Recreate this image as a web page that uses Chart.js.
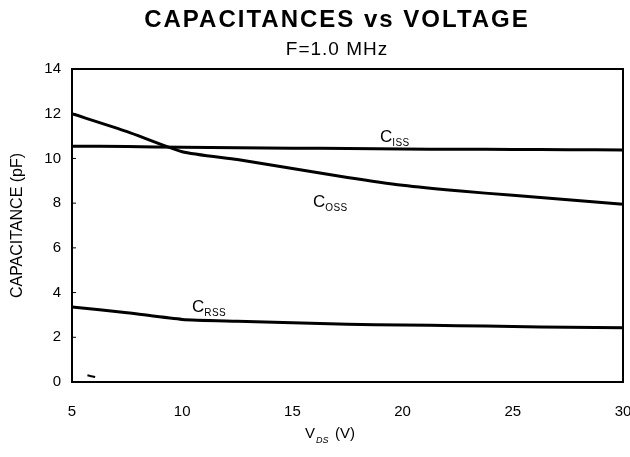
<!DOCTYPE html>
<html>
<head>
<meta charset="utf-8">
<script src="https://cdn.jsdelivr.net/npm/chart.js@4"></script>
<style>
  html, body { margin: 0; padding: 0; background: #fff; }
  #wrap { width: 630px; height: 457px; }
</style>
</head>
<body>
<div id="wrap"><canvas id="myChart" width="630" height="457"></canvas></div>
<script>
const vds = [5, 7.5, 10, 12.5, 15, 17.5, 20, 22.5, 25, 27.5, 30];
const ciss = [10.55, 10.53, 10.5, 10.48, 10.46, 10.44, 10.42, 10.41, 10.4, 10.39, 10.38];
const coss = [12.0, 11.2, 10.3, 9.95, 9.55, 9.15, 8.8, 8.55, 8.35, 8.15, 7.95];
const crss = [3.35, 3.1, 2.8, 2.72, 2.65, 2.58, 2.55, 2.52, 2.48, 2.45, 2.43];
// small stray mark near the origin
const markX = [5.7, 6.05];
const markY = [0.3, 0.22];
const xTicks = [5, 10, 15, 20, 25, 30];
const yTicks = [0, 2, 4, 6, 8, 10, 12, 14];

// curve labels: [main, subscript, x, y]
const curveLabels = [
    ['C', 'ISS', 18.97, 10.73],
    ['C', 'OSS', 15.93, 7.83],
    ['C', 'RSS', 10.44, 3.13]
];

const FONT = '"Liberation Sans", Arial, sans-serif';

function pts(xs, ys) {
    return xs.map((x, i) => ({ x: x, y: ys[i] }));
}

const frame = {
    id: 'frame',
    afterDraw(chart) {
        const ctx = chart.ctx;
        const a = chart.chartArea;
        const xs = chart.scales.x, ys = chart.scales.y;
        ctx.save();
        ctx.fillStyle = '#000';
        ctx.strokeStyle = '#000';

        // title + subtitle
        const tx = 337;
        ctx.textAlign = 'center';
        ctx.textBaseline = 'alphabetic';
        ctx.letterSpacing = '2px';
        ctx.font = 'bold 24px ' + FONT;
        ctx.fillText('CAPACITANCES vs VOLTAGE', tx, 27);
        ctx.letterSpacing = '1px';
        ctx.font = '19px ' + FONT;
        ctx.fillText('F=1.0 MHz', tx, 55);
        ctx.letterSpacing = '0px';

        // frame
        ctx.lineWidth = 2;
        ctx.strokeRect(a.left, a.top, a.right - a.left, a.bottom - a.top);
        ctx.lineWidth = 1;
        yTicks.forEach(v => {
            const py = ys.getPixelForValue(v);
            ctx.beginPath();
            ctx.moveTo(a.left, py);
            ctx.lineTo(a.left + 4, py);
            ctx.stroke();
        });

        // curve labels
        ctx.textAlign = 'left';
        curveLabels.forEach(l => {
            const px = xs.getPixelForValue(l[2]);
            const py = ys.getPixelForValue(l[3]);
            ctx.font = '17px ' + FONT;
            ctx.fillText(l[0], px, py);
            const w = ctx.measureText(l[0]).width;
            ctx.font = '10px ' + FONT;
            ctx.letterSpacing = '0.5px';
            ctx.fillText(l[1], px + w, py + 4);
            ctx.letterSpacing = '0px';
        });

        // x axis title with subscript
        const x0 = 305, y0 = 438;
        ctx.font = '15px ' + FONT;
        ctx.fillText('V', x0, y0);
        ctx.font = 'italic 9px ' + FONT;
        ctx.fillText('DS', x0 + 11, y0 + 5);
        ctx.font = '15px ' + FONT;
        ctx.fillText('(V)', x0 + 30, y0);
        ctx.restore();
    }
};

const lineStyle = {
    borderColor: '#000',
    borderWidth: 3,
    pointRadius: 0,
    tension: 0.2,
    fill: false
};

new Chart(document.getElementById('myChart').getContext('2d'), {
    type: 'line',
    data: {
        datasets: [
            Object.assign({ label: 'CISS', data: pts(vds, ciss) }, lineStyle),
            Object.assign({ label: 'COSS', data: pts(vds, coss) }, lineStyle),
            Object.assign({ label: 'CRSS', data: pts(vds, crss) }, lineStyle),
            Object.assign({ label: 'mark', data: pts(markX, markY) }, lineStyle, { borderWidth: 2 })
        ]
    },
    options: {
        responsive: false,
        animation: false,
        layout: { padding: { left: 0, right: 7, top: 69, bottom: 0 } },
        plugins: {
            legend: { display: false },
            tooltip: { enabled: false }
        },
        scales: {
            x: {
                type: 'linear',
                min: 5,
                max: 30,
                afterBuildTicks: s => { s.ticks = xTicks.map(v => ({ value: v })); },
                afterFit: s => { s.height = 75; s.paddingLeft = 0; s.paddingRight = 0; },
                grid: { display: false, drawTicks: false },
                border: { display: false },
                ticks: { color: '#000', font: { family: FONT, size: 15 }, padding: 21, maxRotation: 0 }
            },
            y: {
                min: 0,
                max: 14,
                afterBuildTicks: s => { s.ticks = yTicks.map(v => ({ value: v })); },
                afterFit: s => { s.width = 72; s.paddingTop = 0; s.paddingBottom = 0; },
                grid: { display: false, drawTicks: false },
                border: { display: false },
                title: {
                    display: true,
                    text: 'CAPACITANCE (pF)',
                    color: '#000',
                    font: { family: FONT, size: 16 },
                    padding: { top: 8, bottom: 0 }
                },
                ticks: { color: '#000', font: { family: FONT, size: 15 }, padding: 11 }
            }
        }
    },
    plugins: [frame]
});
</script>
</body>
</html>
